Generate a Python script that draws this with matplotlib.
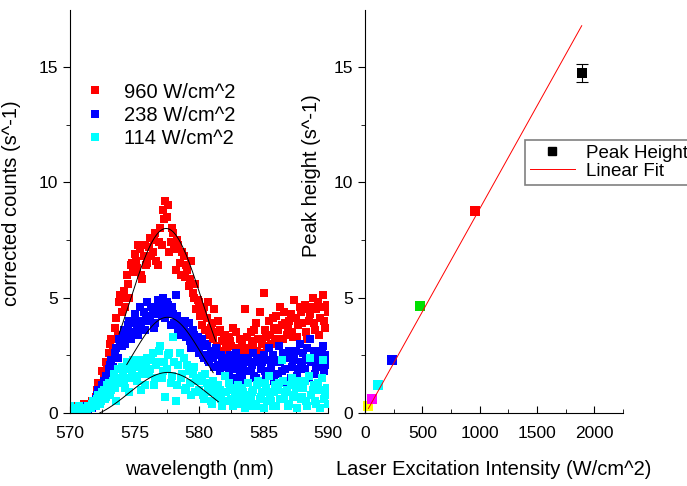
import numpy as np
import matplotlib
matplotlib.use("Agg")
from matplotlib import pyplot as plt
from matplotlib.lines import Line2D
from matplotlib.ticker import MultipleLocator

plt.rcParams['font.family'] = ['Liberation Sans', 'DejaVu Sans']

# spectra read at 570.0, 570.2, ... 590.0 nm
red_960 = [
    0.1, 0.3, 0.2, 0.1, 0.2, 0.3, 0.2, 0.4, 0.3, 0.5,
    0.7, 1.3, 1.0, 1.6, 2.2, 2.6, 3.2, 2.4, 4.1, 4.8,
    4.4, 5.3, 6.0, 5.0, 6.5, 6.9, 6.3, 7.1, 5.8, 7.3,
    6.5, 7.6, 7.0, 7.8, 6.4, 8.0, 8.8, 9.2, 9.0, 7.4,
    7.8, 6.2, 7.3, 6.0, 6.8, 6.4, 5.5, 6.6, 5.0, 4.5,
    4.8, 3.8, 4.6, 4.1, 3.4, 3.9, 4.5, 2.9, 3.6, 3.1,
    3.4, 2.6, 3.1, 3.7, 2.5, 2.3, 3.2, 2.7, 4.5, 2.8,
    3.5, 2.9, 3.9, 3.2, 2.6, 5.2, 3.3, 4.0, 3.0, 3.7,
    4.2, 3.1, 3.8, 4.4, 3.4, 4.0, 3.5, 4.9, 3.3, 4.6,
    3.9, 4.7, 3.2, 4.3, 5.0, 3.6, 4.8, 4.1, 5.1, 3.7,
    4.4,
]
blue_238 = [
    0.1, 0.2, 0.1, 0.2, 0.1, 0.3, 0.2, 0.1, 0.3, 0.4,
    0.6, 1.0, 0.8, 1.4, 1.6, 1.9, 2.3, 1.7, 2.8, 3.2,
    2.9, 3.6, 3.3, 4.0, 3.5, 4.3, 3.7, 4.6, 4.0, 3.6,
    4.8, 4.2, 4.5, 3.9, 4.9, 4.4, 5.0, 4.1, 4.7, 3.8,
    4.3, 5.1, 3.6, 4.0, 3.7, 3.3, 3.9, 2.8, 3.4, 3.0,
    2.6, 3.2, 2.4, 2.9, 2.2, 2.7, 2.0, 2.5, 1.8, 2.3,
    2.1, 1.6, 2.5, 1.9, 1.4, 2.3, 1.7, 2.1, 1.3, 2.4,
    1.8, 2.6, 1.5, 2.2, 1.9, 2.5, 1.6, 2.8, 2.0, 1.4,
    2.3, 2.9, 1.8, 2.5, 1.2, 2.7, 2.0, 2.4, 1.6, 3.0,
    2.2, 1.9, 2.8, 3.2, 2.4, 1.7, 2.6, 2.0, 2.9, 2.4,
    2.1,
]
cyan_114 = [
    0.3, 0.1, 0.2, 0.1, 0.2, 0.1, 0.2, 0.3, 0.2, 0.5,
    0.3, 0.8, 0.5, 1.0, 0.7, 1.3, 1.0, 1.7, 0.5, 1.5,
    2.0, 1.4, 2.2, 0.9, 1.8, 2.1, 1.4, 2.3, 1.7, 1.2,
    2.4, 1.9, 2.6, 1.5, 2.2, 2.9, 1.8, 0.7, 2.5, 1.3,
    3.3, 0.5, 2.1, 1.5, 2.4, 1.1, 1.8, 0.8, 2.0, 1.4,
    1.0, 1.6, 0.6, 1.3, 0.9, 0.4, 1.2, 0.7, 1.0, 0.3,
    1.6, 0.5, 1.1, 0.3, 0.8, 1.2, 0.4, 0.9, 0.2, 1.3,
    0.6, 1.0, 0.3, 1.4, 0.7, 0.2, 1.1, 1.6, 0.5, 0.9,
    0.3, 1.3, 2.3, 0.6, 1.0, 0.4, 1.5, 0.8, 0.2, 1.2,
    0.7, 1.4, 0.3, 2.4, 1.0, 0.5, 1.3, 0.2, 2.3, 0.8,
    0.4,
]
# spectra read at 570.1, 570.3, ... 589.9 nm
red_960_b = [
    0.2, 0.1, 0.3, 0.2, 0.1, 0.4, 0.2, 0.3, 0.5, 0.4,
    1.0, 0.8, 1.8, 1.4, 2.0, 3.0, 2.7, 3.7, 3.4, 5.1,
    5.0, 4.6, 5.6, 6.4, 6.1, 6.6, 7.3, 6.0, 6.8, 6.4,
    7.2, 6.8, 7.5, 6.6, 7.4, 7.3, 8.4, 8.5, 7.0, 8.0,
    7.1, 7.5, 6.5, 7.0, 5.9, 6.2, 5.8, 5.2, 5.6, 4.9,
    4.2, 4.4, 3.6, 4.8, 3.7, 3.2, 3.5, 4.0, 2.7, 3.3,
    2.8, 3.3, 2.9, 2.4, 3.5, 2.8, 3.0, 2.5, 3.3, 2.6,
    3.1, 3.6, 2.7, 4.4, 3.0, 3.6, 2.9, 3.4, 4.1, 3.2,
    3.6, 4.6, 3.2, 3.9, 3.7, 4.3, 3.3, 4.1, 3.8, 4.4,
    4.5, 3.5, 4.0, 4.6, 3.9, 4.5, 3.4, 4.6, 4.0, 4.7,
]
blue_238_b = [
    0.1, 0.2, 0.1, 0.1, 0.2, 0.1, 0.2, 0.3, 0.2, 0.3,
    0.8, 0.5, 1.2, 1.1, 1.5, 2.1, 2.0, 2.6, 2.4, 3.0,
    3.4, 3.0, 3.8, 3.2, 3.9, 4.0, 3.4, 3.9, 4.4, 4.1,
    4.0, 4.6, 3.7, 4.3, 4.7, 4.2, 4.5, 4.8, 4.3, 4.6,
    3.9, 4.2, 3.4, 3.8, 4.0, 3.5, 3.1, 3.6, 2.8, 3.3,
    2.9, 2.5, 3.0, 2.3, 2.6, 2.4, 2.8, 2.1, 2.5, 2.0,
    2.4, 1.8, 2.2, 1.5, 2.6, 2.0, 1.5, 2.4, 1.8, 2.2,
    2.1, 1.6, 2.4, 1.3, 2.2, 1.8, 2.3, 1.7, 2.5, 2.2,
    1.7, 2.2, 2.6, 1.9, 2.4, 1.5, 2.3, 2.7, 1.9, 2.2,
    2.6, 2.3, 1.5, 2.2, 2.7, 2.0, 2.3, 2.7, 1.8, 2.5,
]
cyan_114_b = [
    0.2, 0.2, 0.1, 0.3, 0.1, 0.2, 0.1, 0.2, 0.4, 0.3,
    0.6, 0.4, 0.9, 0.6, 1.2, 0.8, 1.4, 1.1, 1.9, 1.3,
    1.7, 1.1, 1.9, 1.5, 2.3, 1.6, 2.0, 1.0, 1.9, 2.2,
    1.7, 2.3, 1.2, 2.1, 2.7, 1.5, 2.2, 1.9, 2.6, 1.6,
    2.2, 1.2, 2.6, 1.7, 1.0, 2.1, 1.3, 1.7, 0.9, 1.5,
    1.4, 0.8, 1.7, 1.1, 0.5, 1.4, 0.9, 1.2, 0.6, 0.9,
    0.9, 1.3, 0.6, 1.0, 0.4, 0.7, 1.1, 0.5, 0.8, 0.3,
    0.9, 0.4, 1.2, 0.6, 0.9, 1.3, 0.5, 0.8, 0.3, 1.2,
    1.0, 0.6, 1.4, 0.9, 0.3, 1.2, 0.7, 1.1, 1.4, 0.6,
    1.1, 0.5, 1.6, 0.8, 1.2, 0.4, 1.0, 1.5, 0.6, 1.1,
]
wl_a = np.linspace(570, 590, len(red_960))
wl_b = np.linspace(570.1, 589.9, len(red_960_b))
wavelength = np.concatenate([wl_a, wl_b])

# gaussian fits: (center, amplitude, sigma, offset, start, end)
fit_960 = (577.45, 8.0, 2.8, 0.0, 573.8, 581.3)
fit_238 = (577.55, 4.15, 2.7, 0.0, 574.4, 581.1)
fit_114 = (577.6, 2.23, 3.0, -0.47, 572.3, 581.5)

# peak height vs intensity
intensity = [30, 57, 114, 238, 477, 960, 1890]
peak_height = [0.3, 0.6, 1.2, 2.3, 4.65, 8.75, 14.75]
peak_err = [0, 0, 0, 0, 0, 0, 0.4]
point_colors = ['#ffff00', '#ff00ff', '#00ffff', '#0000ff', '#00e000', '#ff0000', '#000000']
fit_intercept = -0.07
fit_slope = 0.00892
fit_range = [30, 1890]

fig = plt.figure(figsize=(6.87, 4.86), dpi=100)
ax1 = fig.add_axes([70/687, 73/486, 258/687, 403/486])
ax2 = fig.add_axes([365/687, 73/486, 258/687, 403/486])

# left panel
ms = 6.4
ax1.plot(wavelength, red_960 + red_960_b, 's', color='#ff0000', ms=ms, mew=0, label='960 W/cm^2')
ax1.plot(wavelength, blue_238 + blue_238_b, 's', color='#0000ff', ms=ms, mew=0, label='238 W/cm^2')
ax1.plot(wavelength, cyan_114 + cyan_114_b, 's', color='#00ffff', ms=ms, mew=0, label='114 W/cm^2')
for c, a, s, y0, x0, x1 in [fit_960, fit_238, fit_114]:
    xx = np.linspace(x0, x1, 200)
    ax1.plot(xx, y0 + a*np.exp(-(xx - c)**2/(2*s**2)), color='black', lw=0.7)

ax1.set_xlim(570, 590)
ax1.set_ylim(0, 17.47)
ax1.xaxis.set_major_locator(MultipleLocator(5))
ax1.xaxis.set_minor_locator(MultipleLocator(2.5))
ax1.set_xlabel('wavelength (nm)', fontsize=14.5, labelpad=14)
ax1.set_ylabel('corrected counts (s^-1)', fontsize=14.5)
ax1.yaxis.set_label_coords(-0.188, 0.521)
ax1.legend(loc='upper left', bbox_to_anchor=(0.03, 0.84), frameon=False, fontsize=14.5,
           handletextpad=1.0, labelspacing=0.2, handlelength=0.9, borderaxespad=0,
           markerscale=0.9)

# right panel
for x, y, e, col in zip(intensity, peak_height, peak_err, point_colors):
    if e > 0:
        ax2.errorbar(x, y, yerr=e, fmt='none', ecolor='black', elinewidth=0.8, capsize=4, capthick=0.8)
    ax2.plot(x, y, 's', color=col, ms=6.6, mew=0, clip_on=False)
xf = np.array(fit_range)
ax2.plot(xf, fit_intercept + fit_slope*xf, color='#ff0000', lw=0.7)

ax2.set_xlim(0, 2250)
ax2.set_ylim(0, 17.47)
ax2.xaxis.set_major_locator(MultipleLocator(500))
ax2.xaxis.set_minor_locator(MultipleLocator(250))
ax2.set_xlabel('Laser Excitation Intensity (W/cm^2)', fontsize=14.5, labelpad=14)
ax2.set_ylabel('Peak height (s^-1)', fontsize=14.5)
ax2.yaxis.set_label_coords(-0.171, 0.588)

handles = [Line2D([], [], marker='s', color='black', ls='none', ms=6),
           Line2D([], [], color='#ff0000', lw=0.7)]
leg = ax2.legend(handles, ['Peak Height', 'Linear Fit'], loc='upper left',
                 bbox_to_anchor=(525/687, 1 - 140/486), bbox_transform=fig.transFigure,
                 fontsize=13.5, fancybox=False, framealpha=1, borderaxespad=0,
                 handlelength=2.4, handletextpad=0.6, labelspacing=0.05, borderpad=0.25)
leg.get_frame().set_edgecolor('#808080')
leg.get_frame().set_linewidth(1.2)

for ax in (ax1, ax2):
    ax.spines['top'].set_visible(False)
    ax.spines['right'].set_visible(False)
    ax.yaxis.set_major_locator(MultipleLocator(5))
    ax.yaxis.set_minor_locator(MultipleLocator(2.5))
    ax.tick_params(axis='x', which='both', direction='in', labelsize=12.5, pad=9)
    ax.tick_params(axis='y', which='both', direction='out', labelsize=12.5)
    ax.tick_params(which='major', length=5)
    ax.tick_params(which='minor', length=3)

plt.savefig('out.png', dpi=100)
